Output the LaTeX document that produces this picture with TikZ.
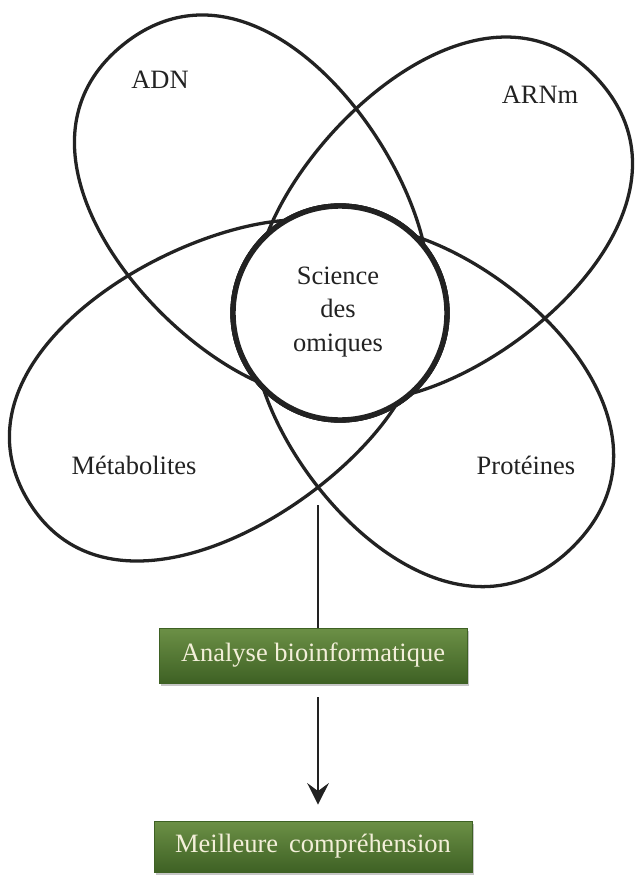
\documentclass[tikz,border=0pt]{standalone}
\usepackage{fontspec}
\setmainfont{Liberation Serif}
\usetikzlibrary{arrows.meta, shadows}
\definecolor{ink}{HTML}{222222}
\definecolor{boxLight}{HTML}{6C9046}
\definecolor{boxMid}{HTML}{5A7E36}
\definecolor{boxDark}{HTML}{3E6124}
\definecolor{boxText}{HTML}{F3EFD9}
\tikzset{
    petal/.style={
        draw=ink,
        line width=2.8pt,
        line join=round
    },
    core/.style={
        draw=ink,
        line width=4.6pt
    },
    omicText/.style={
        text=ink,
        inner sep=0pt,
        font=\fontsize{22.6}{28.6}\selectfont
    },
    resultBox/.style={
        rectangle,
        draw=boxDark,
        line width=0.5pt,
        top color=boxLight,
        middle color=boxMid,
        bottom color=boxDark,
        text=boxText,
        inner sep=0pt,
        font=\fontsize{22.6}{27}\selectfont,
        drop shadow={shadow xshift=0.5mm, shadow yshift=-0.9mm, opacity=0.45}
    }
}

\begin{document}
\begin{tikzpicture}[x=0.3mm, y=-0.3mm, >={Stealth[length=6.5mm, width=6.5mm, inset=2.4mm]}]
    \useasboundingbox (0,0) rectangle (634,876);

    % Petals (one per omics layer)
    \foreach \ang/\len in {129/345, 42/348, 211/364, 315/330} {
        \draw[petal, shift={(340,313)}, rotate=\ang]
            (0,108) arc[start angle=90, end angle=270, radius=108]
            .. controls (115,-165) and (\len,-160) .. (\len,0)
            .. controls (\len,160) and (115,165) .. (0,108) -- cycle;
    }

    % Central overlap
    \draw[core] (340,313) circle[radius=107];

    % Labels
    \node[omicText] (adn) at (160,80) {ADN};
    \node[omicText] (arnm) at (540,95) {ARNm};
    \node[omicText, align=center] (omiques) at (338,312) {Science\\des\\omiques};
    \node[omicText] (metab) at (134,465) {Métabolites};
    \node[omicText] (proteines) at (526,465) {Protéines};

    % Analysis flow
    \node[resultBox, minimum width=92.4mm, minimum height=16.5mm] (analyse) at (313,655.5) {Analyse bioinformatique};
    \node[resultBox, minimum width=95.4mm, minimum height=15.3mm] (comprehension) at (313,846.5) {Meilleure\ \,compréhension};

    \coordinate (flowStart) at (318,505);
    \draw[ink, line width=1.1pt] (flowStart) -- (flowStart |- analyse.north);
    \draw[->, ink, line width=1.1pt, shorten <=4.2mm, shorten >=4.8mm]
        ([xshift=1.5mm]analyse.south) -- ([xshift=1.5mm]comprehension.north);
\end{tikzpicture}
\end{document}
